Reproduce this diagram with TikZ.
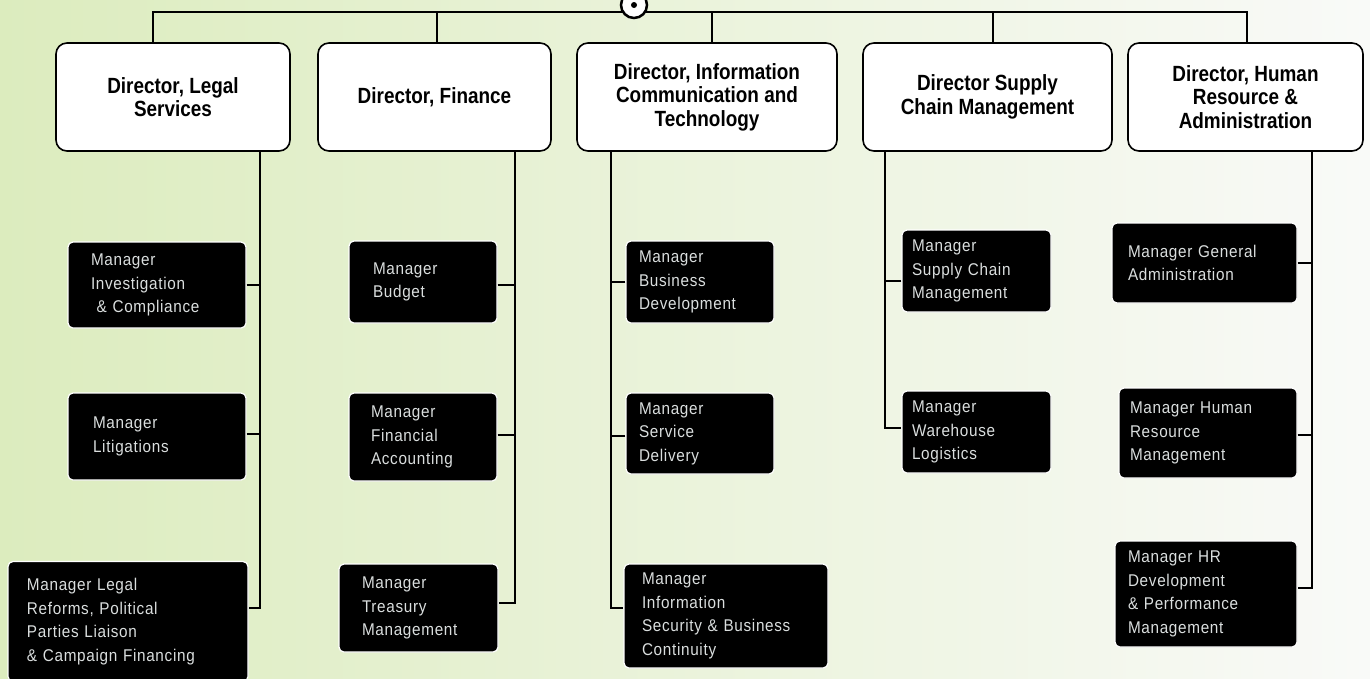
\documentclass[tikz,border=0pt]{standalone}
\usepackage{fontspec}
\setmainfont{Liberation Sans}
\newfontfamily\dirfont[FakeStretch=0.86]{Liberation Sans}
\newfontfamily\mgrfont[FakeStretch=0.9,LetterSpace=4]{Liberation Sans}
\definecolor{bgleft}{RGB}{220,236,190}
\definecolor{bgmid}{RGB}{237,243,225}
\definecolor{bgright}{RGB}{249,250,248}
\definecolor{mgrtext}{RGB}{218,222,222}
\tikzset{
    director/.style={draw=black, line width=1.6pt, fill=white, rounded corners=11pt, align=center,
        font=\dirfont\bfseries\fontsize{22}{23.5}\selectfont, minimum height=108pt},
    manager/.style={fill=black, draw=white, line width=1.2pt, rounded corners=5pt, align=left,
        text=mgrtext, font=\mgrfont\fontsize{17}{23.5}\selectfont},
    link/.style={line width=2pt}
}
\begin{document}
\begin{tikzpicture}[x=1pt,y=-1pt]
        \useasboundingbox (0,0) rectangle (1370,678);
        \shade[left color=bgleft, middle color=bgmid, right color=bgright] (0,0) rectangle (1370,678);

        \node[director, minimum width=234pt] (leg) at (173,97) {Director, Legal\\Services};
        \node[director, minimum width=233pt] (fin) at (434.5,97) {Director, Finance};
        \node[director, minimum width=260pt] (ict) at (707,97) {Director, Information\\Communication and\\Technology};
        \node[director, minimum width=249pt] (sup) at (987.5,97) {Director Supply\\Chain Management};
        \node[director, minimum width=235pt] (hrd) at (1245.5,97) {Director, Human\\Resource \&\\Administration};

        \coordinate (bus) at (634,12);
        \draw[link] ([xshift=-20pt]leg.north) |- (bus);
        \draw[link] ([xshift=2.5pt]fin.north) |- (bus);
        \draw[link] ([xshift=5pt]ict.north) |- (bus);
        \draw[link] ([xshift=5.5pt]sup.north) |- (bus);
        \draw[link] ([xshift=1.5pt]hrd.north) |- (bus);
        \node[draw, line width=2.5pt, fill=white, circle, minimum size=26pt, inner sep=0pt] (head) at (634,5) {};
        \fill (head.center) circle (3pt);

        \node[manager, inner xsep=23pt, text width=132pt, minimum height=86pt] (inv) at (157,285) {Manager\\Investigation\\\ \& Compliance};
        \node[manager, inner xsep=25pt, text width=128pt, minimum height=87pt] (lit) at (157,436.5) {Manager\\Litigations};
        \node[manager, inner xsep=19pt, text width=202pt, minimum height=120pt] (ref) at (128,621.5) {Manager Legal\\Reforms, Political\\Parties Liaison\\\& Campaign Financing};

        \node[manager, inner xsep=24pt, text width=100pt, minimum height=82pt] (bud) at (423,282) {Manager\\Budget};
        \node[manager, inner xsep=22pt, text width=104pt, minimum height=88pt] (acc) at (423,437) {Manager\\Financial\\Accounting};
        \node[manager, inner xsep=23pt, text width=113pt, minimum height=88pt] (tre) at (418.5,608) {Manager\\Treasury\\Management};

        \node[manager, inner xsep=13pt, text width=122pt, minimum height=82pt] (bdv) at (700,282) {Manager\\Business\\Development};
        \node[manager, inner xsep=13pt, text width=122pt, minimum height=81pt] (ser) at (700,433.5) {Manager\\Service\\Delivery};
        \node[manager, inner xsep=18pt, text width=168pt, minimum height=104pt] (sec) at (726,616) {Manager\\Information\\Security \& Business\\Continuity};

        \node[manager, inner xsep=10pt, text width=129pt, minimum height=82pt] (scm) at (976.5,271) {Manager\\Supply Chain\\Management};
        \node[manager, inner xsep=10pt, text width=129pt, minimum height=82pt] (war) at (976.5,432) {Manager\\Warehouse\\Logistics};

        \node[manager, inner xsep=16pt, text width=153pt, minimum height=80pt] (gen) at (1204.5,263) {Manager General\\Administration};
        \node[manager, inner xsep=11pt, text width=156pt, minimum height=90pt] (hrm) at (1208,433) {Manager Human\\Resource\\Management};
        \node[manager, inner xsep=13pt, text width=156pt, minimum height=106pt] (dev) at (1206,594) {Manager HR\\Development\\\& Performance\\Management};

        \coordinate (legbar) at (260,151);
        \coordinate (finbar) at (515,151);
        \coordinate (ictbar) at (611,151);
        \coordinate (supbar) at (885,151);
        \coordinate (hrbar) at (1312,151);

        \draw[link] (legbar) |- ([yshift=14pt]ref.east);
        \draw[link] (inv.east) -- (inv.east -| legbar);
        \draw[link] ([yshift=3pt]lit.east) -- ([yshift=3pt]lit.east -| legbar);

        \draw[link] (finbar) |- ([yshift=5pt]tre.east);
        \draw[link] ([yshift=-3pt]bud.east) -- ([yshift=-3pt]bud.east -| finbar);
        \draw[link] ([yshift=2pt]acc.east) -- ([yshift=2pt]acc.east -| finbar);

        \draw[link] (ictbar) |- ([yshift=8pt]sec.west);
        \draw[link] (bdv.west) -- (bdv.west -| ictbar);
        \draw[link] ([yshift=-2pt]ser.west) -- ([yshift=-2pt]ser.west -| ictbar);

        \draw[link] (supbar) |- ([yshift=4pt]war.west);
        \draw[link] ([yshift=-10pt]scm.west) -- ([yshift=-10pt]scm.west -| supbar);

        \draw[link] (hrbar) |- ([yshift=6pt]dev.east);
        \draw[link] (gen.east) -- (gen.east -| hrbar);
        \draw[link] ([yshift=-2pt]hrm.east) -- ([yshift=-2pt]hrm.east -| hrbar);
    \end{tikzpicture}
\end{document}
